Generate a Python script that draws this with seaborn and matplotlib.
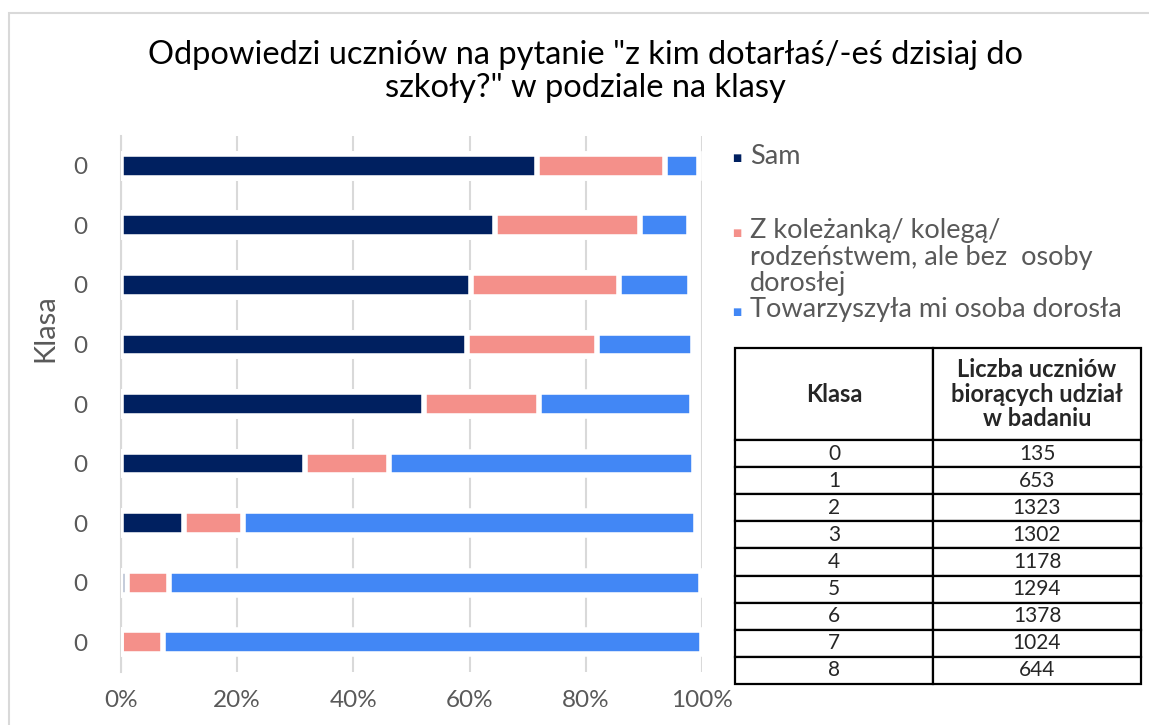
import numpy as np
import pandas as pd
import matplotlib
matplotlib.use("Agg")
import matplotlib.pyplot as plt
import seaborn as sns
from matplotlib.patches import Rectangle

# values (percent), rows top -> bottom
row_labels = ["0", "0", "0", "0", "0", "0", "0", "0", "0"]
sam = [71.6, 64.3, 60.2, 59.5, 52.1, 31.6, 10.9, 1.0, 0.0]
z_kolega = [22.0, 25.1, 25.5, 22.4, 19.8, 14.6, 10.1, 7.3, 7.3]
z_dorosla = [5.9, 8.4, 12.2, 16.6, 26.3, 52.4, 77.9, 91.5, 92.7]

series_names = ["Sam",
                "Z koleżanką/ kolegą/\nrodzeństwem, ale bez  osoby\ndorosłej",
                "Towarzyszyła mi osoba dorosła"]
colors = ["#002060", "#F4908A", "#4287F5"]

table_klasa = ["0", "1", "2", "3", "4", "5", "6", "7", "8"]
table_liczba = ["135", "653", "1323", "1302", "1178", "1294", "1378", "1024", "644"]

df = pd.DataFrame({
    "row": [f"r{i}" for i in range(len(row_labels))],
    "sam": sam, "kol": z_kolega, "dor": z_dorosla,
})
df["c1"] = df["sam"] / 100
df["c2"] = (df["sam"] + df["kol"]) / 100
df["c3"] = (df["sam"] + df["kol"] + df["dor"]) / 100

sns.set_theme(style="white")
plt.rcParams["font.family"] = ["Lato", "DejaVu Sans"]
grey = "#595959"
W, H = 1149, 725

fig = plt.figure(figsize=(W / 100, H / 100), dpi=100)

# chart frame
fig.patches.append(Rectangle((8.5 / W, -0.1), 1.2, 1 - 13.5 / H + 0.1, transform=fig.transFigure,
                             fill=False, edgecolor="#d9d9d9", linewidth=1.5, zorder=0))

ax = fig.add_axes([121 / W, 1 - 672 / H, (702 - 121) / W, (672 - 136) / H])

# stacked bars: draw cumulative totals, largest first
for col, c in zip(["c3", "c2", "c1"], colors[::-1]):
    sns.barplot(data=df, x=col, y="row", orient="h", order=df["row"],
                color=c, width=0.40, edgecolor="white", linewidth=4,
                saturation=1, ax=ax, zorder=3)

ax.set_xlim(0, 1)
ax.set_xticks(np.linspace(0, 1, 6))
ax.set_xticklabels([f"{int(v*100)}%" for v in np.linspace(0, 1, 6)])
ax.set_yticks(range(len(row_labels)))
ax.set_yticklabels(row_labels)
ax.grid(axis="x", color="#d9d9d9", linewidth=1.5, zorder=0)
ax.set_axisbelow(True)
for s in ["top", "right", "bottom"]:
    ax.spines[s].set_visible(False)
ax.spines["left"].set_color("#d9d9d9")
ax.spines["left"].set_linewidth(1.5)
ax.tick_params(axis="both", length=0, colors=grey, labelsize=17.5)
ax.tick_params(axis="y", pad=24)
ax.tick_params(axis="x", pad=13)
ax.set_xlabel("")
ax.set_ylabel("")
fig.text(45 / W, 1 - 328 / H, "Klasa", rotation=90, color=grey, fontsize=21, ha="center", va="center")

fig.text(585 / W, 1 - 55 / H, 'Odpowiedzi uczniów na pytanie "z kim dotarłaś/-eś dzisiaj do',
         ha="center", va="center", fontsize=23.5, color="black")
fig.text(585 / W, 1 - 88 / H, 'szkoły?" w podziale na klasy',
         ha="center", va="center", fontsize=23.5, color="black")

# legend
leg_y = [157, 232, 310]
for name, c, y in zip(series_names, colors, leg_y):
    fig.text(737 / W, 1 - (y + 2) / H, "■", color=c, fontsize=7, ha="center", va="center")
    if "\n" in name:
        fig.text(750 / W, 1 - (y - 14) / H, name, color=grey, fontsize=19.5, ha="left", va="top",
                 linespacing=1.08)
    else:
        fig.text(750 / W, 1 - y / H, name, color=grey, fontsize=19.5, ha="left", va="center")

# table with participants per class
tax = fig.add_axes([735 / W, 1 - 684 / H, (1141 - 735) / W, (684 - 348) / H])
tax.axis("off")
cells = [[k, n] for k, n in zip(table_klasa, table_liczba)]
tbl = tax.table(cellText=cells, colLabels=["Klasa", "Liczba uczniów\nbiorących udział\nw badaniu"],
                colWidths=[198, 208], cellLoc="center", bbox=[0, 0, 1, 1])
tbl.auto_set_font_size(False)
for (r, cidx), cell in tbl.get_celld().items():
    cell.set_edgecolor("black")
    cell.set_linewidth(1.6)
    if r == 0:
        cell.set_height(92)
        cell.get_text().set_fontweight("bold")
        cell.get_text().set_fontsize(17)
        cell.get_text().set_linespacing(1.08)
    else:
        cell.set_height(27.1)
        cell.get_text().set_fontsize(15)

fig.savefig("out.png", dpi=100)
